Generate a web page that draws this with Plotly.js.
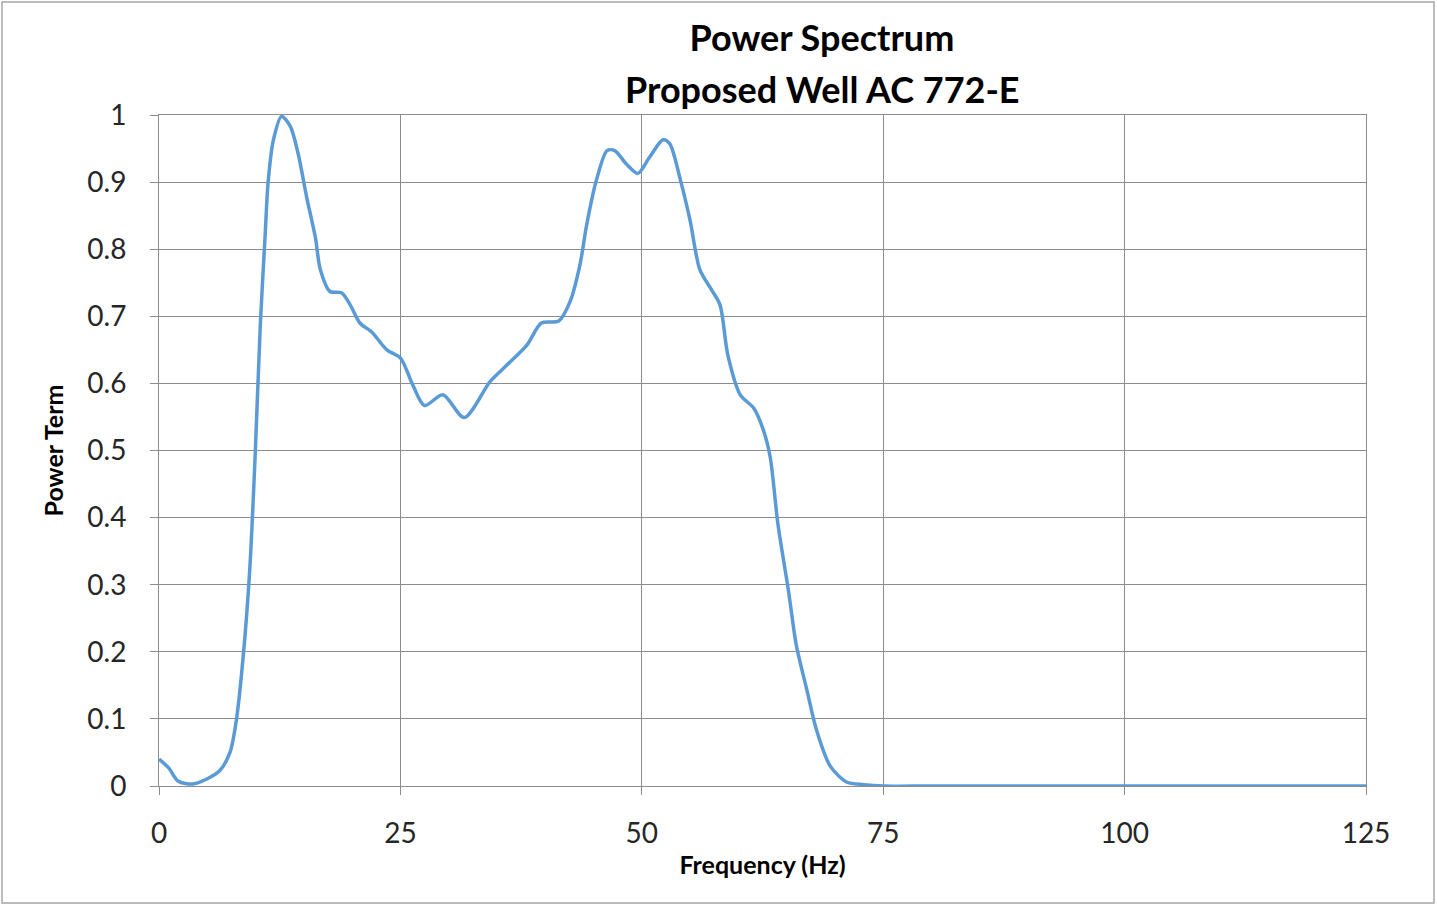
<!DOCTYPE html>
<html>
<head>
<meta charset="utf-8">
<script src="https://cdn.plot.ly/plotly-3.0.1.min.js"></script>
<style>html,body{margin:0;padding:0;background:#fff;}#chart{width:1437px;height:906px;}</style>
</head>
<body>
<div id="chart"></div>
<script>
const frequency = [0, 1.0, 2.0, 3.5, 4.9, 6.3, 7.35, 8.0, 8.7, 9.4, 9.95, 10.5, 11.0, 11.3, 11.85, 12.7, 13.6, 14.4, 15.3, 16.2, 16.7, 17.7, 18.9, 19.8, 20.8, 22.0, 23.6, 25.0, 26.3, 27.5, 29.4, 31.6, 34.3, 36.0, 38.1, 39.6, 41.4, 42.6, 43.6, 44.3, 45.3, 46.4, 47.2, 48.4, 49.6, 50.8, 52.2, 52.9, 54.0, 55.0, 56.0, 57.2, 58.1, 58.9, 60.2, 61.6, 62.6, 63.3, 64.1, 65.2, 66.0, 67.1, 68.1, 69.5, 71.2, 73.0, 75.0, 80, 90, 100, 110, 125];
const powerTerm = [0.04, 0.027, 0.007, 0.003, 0.01, 0.023, 0.05, 0.097, 0.19, 0.323, 0.49, 0.69, 0.823, 0.9, 0.963, 0.998, 0.983, 0.943, 0.877, 0.817, 0.77, 0.737, 0.735, 0.717, 0.69, 0.677, 0.65, 0.638, 0.597, 0.567, 0.583, 0.549, 0.603, 0.627, 0.657, 0.69, 0.693, 0.723, 0.777, 0.837, 0.903, 0.947, 0.947, 0.927, 0.913, 0.937, 0.963, 0.957, 0.903, 0.843, 0.77, 0.74, 0.717, 0.643, 0.583, 0.563, 0.53, 0.49, 0.39, 0.29, 0.21, 0.143, 0.083, 0.03, 0.006, 0.002, 0, 0, 0, 0, 0, 0];
const xTicks = [0, 25, 50, 75, 100, 125];
const yTicks = [0, 0.1, 0.2, 0.3, 0.4, 0.5, 0.6, 0.7, 0.8, 0.9, 1];
const titleLines = ['Power Spectrum', 'Proposed Well AC 772-E'];

const FONT = 'Lato, "Open Sans", "Liberation Sans", sans-serif';

const trace = {
  x: frequency,
  y: powerTerm,
  type: 'scatter',
  mode: 'lines',
  line: {color: '#5B9BD5', width: 3.5, shape: 'spline', smoothing: 0.8},
  hoverinfo: 'x+y'
};

const layout = {
  width: 1437,
  height: 906,
  paper_bgcolor: '#ffffff',
  plot_bgcolor: '#ffffff',
  margin: {l: 159, r: 71, t: 115, b: 120},
  showlegend: false,
  font: {family: FONT, color: '#000'},
  title: {
    text: '<b>' + titleLines[0] + '</b>',
    font: {family: FONT, size: 36, color: '#000'},
    xref: 'container', x: 0.572, xanchor: 'center',
    yref: 'container', y: 1 - 38/906, yanchor: 'middle'
  },
  annotations: [{
    text: '<b>' + titleLines[1] + '</b>',
    font: {family: FONT, size: 36, color: '#000'},
    xref: 'paper', x: (822 - 159) / 1207, xanchor: 'center',
    yref: 'paper', y: (786 - 89) / 671, yanchor: 'middle',
    showarrow: false
  }],
  xaxis: {
    range: [0, 125],
    tickvals: xTicks,
    ticktext: xTicks.map(String),
    showgrid: true, gridcolor: '#8c8c8c', gridwidth: 1,
    showline: true, linecolor: '#8c8c8c', linewidth: 1,
    zeroline: false,
    ticks: 'outside', ticklen: 8, tickcolor: '#8c8c8c',
    ticklabelstandoff: 14,
    tickfont: {family: FONT, size: 28, color: '#262626'},
    title: {text: '<b>Frequency (Hz)</b>', font: {family: FONT, size: 25, color: '#000'}, standoff: 8},
    mirror: true
  },
  yaxis: {
    range: [0, 1],
    tickvals: yTicks,
    ticktext: yTicks.map(v => String(v)),
    showgrid: true, gridcolor: '#8c8c8c', gridwidth: 1,
    showline: true, linecolor: '#8c8c8c', linewidth: 1,
    zeroline: false,
    ticks: 'outside', ticklen: 8, tickcolor: '#8c8c8c',
    ticklabelstandoff: 18,
    tickfont: {family: FONT, size: 28, color: '#262626'},
    title: {text: '<b>Power Term</b>', font: {family: FONT, size: 25, color: '#000'}, standoff: 16},
    mirror: true
  },
  shapes: [{
    type: 'rect', xref: 'paper', yref: 'paper',
    x0: -157/1207, x1: (1434-159)/1207, y0: -117/671, y1: 1 + 113/671,
    line: {color: '#a6a6a6', width: 1.5}, fillcolor: 'rgba(0,0,0,0)', layer: 'below'
  }]
};

Plotly.newPlot('chart', [trace], layout, {displayModeBar: false, staticPlot: true});
</script>
</body>
</html>
